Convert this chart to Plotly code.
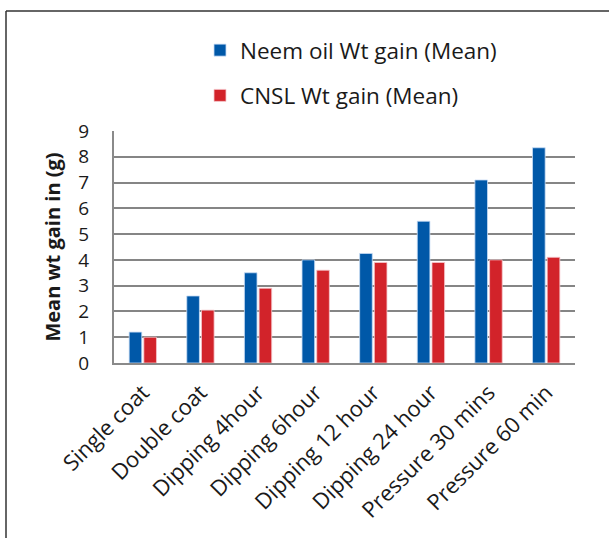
import plotly.graph_objects as go

categories = ["Single coat", "Double coat", "Dipping 4hour", "Dipping 6hour",
              "Dipping 12 hour", "Dipping 24 hour", "Pressure 30 mins", "Pressure 60 min"]
neem_oil = [1.2, 2.6, 3.5, 4.0, 4.25, 5.5, 7.1, 8.35]
cnsl = [1.0, 2.05, 2.9, 3.6, 3.9, 3.9, 4.0, 4.1]
y_ticks = [0, 1, 2, 3, 4, 5, 6, 7, 8, 9]

FONT = "Open Sans"
W, H = 609, 538
ML, MR, MT, MB = 114, 34, 131, 175
PW, PH = W - ML - MR, H - MT - MB

def px_x(px):
    return (px - ML) / PW

def px_y(py):
    return (H - MB - py) / PH

fig = go.Figure()
fig.add_trace(go.Bar(
    x=categories, y=neem_oil, name="Neem oil Wt gain (Mean)",
    legendgroup="a",
    marker=dict(color="#0058a8", line=dict(color="rgba(200,220,245,0.8)", width=1)),
))
fig.add_trace(go.Bar(
    x=categories, y=cnsl, name="CNSL Wt gain (Mean)",
    legendgroup="b",
    marker=dict(color="#d2232a", line=dict(color="rgba(245,200,205,0.8)", width=1)),
))

fig.update_layout(
    width=W, height=H,
    margin=dict(l=ML, r=MR, t=MT, b=MB),
    paper_bgcolor="white", plot_bgcolor="white",
    barmode="group", bargap=0.49, bargroupgap=0.14,
    font=dict(family=FONT, size=18, color="#1a1a1a"),
    legend=dict(
        x=px_x(200), y=px_y(29), xanchor="left", yanchor="top",
        font=dict(size=22.5, family=FONT), tracegroupgap=13,
        bgcolor="rgba(0,0,0,0)",
    ),
    showlegend=True,
)
fig.update_xaxes(
    tickangle=-45, tickfont=dict(size=22, family=FONT),
    showline=True, linecolor="#8a8a8a", linewidth=2,
    showgrid=False, ticks="", ticklabelstandoff=6,
)
fig.update_yaxes(
    range=[0, 9], tickvals=y_ticks, ticktext=[str(v) for v in y_ticks],
    tickfont=dict(size=19, family=FONT),
    showline=True, linecolor="#8a8a8a", linewidth=2,
    showgrid=True, gridcolor="#858585", gridwidth=1.6,
    ticks="", ticklabelstandoff=19,
    title=dict(text="<b>Mean wt gain in (g)</b>", font=dict(size=20, family=FONT), standoff=12),
    zeroline=False,
)

# outer frame (left and top lines)
fig.add_shape(type="line", xref="paper", yref="paper",
              x0=px_x(6), x1=px_x(6), y0=px_y(11), y1=px_y(540),
              line=dict(color="#333333", width=1.5))
fig.add_shape(type="line", xref="paper", yref="paper",
              x0=px_x(6), x1=px_x(612), y0=px_y(11), y1=px_y(11),
              line=dict(color="#333333", width=1.5))

fig.write_html("out.html", config={"displayModeBar": False},
               post_script="document.body.style.margin='0px';")
